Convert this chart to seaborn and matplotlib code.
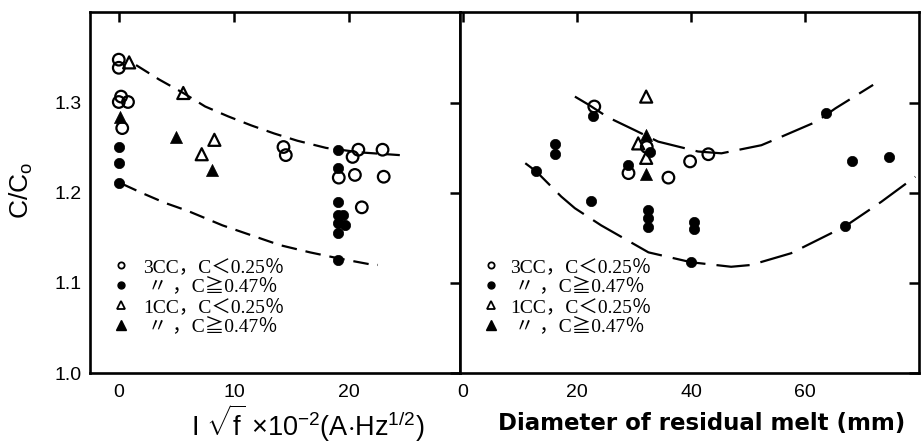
import numpy as np
import pandas as pd
import matplotlib
matplotlib.use("Agg")
import matplotlib.pyplot as plt
from matplotlib.lines import Line2D
import seaborn as sns

# ---------------- data: left panel (I*sqrt(f) x 1e-2) ----------------
L_3cc_low_x = [0, 0, 0.2, 0, 0.8, 0.3, 14.3, 14.5, 19.1, 20.3, 20.8, 20.5, 22.9, 23.0, 21.1]
L_3cc_low_y = [1.348, 1.339, 1.307, 1.301, 1.301, 1.272, 1.251, 1.242, 1.217, 1.240, 1.248, 1.220, 1.248, 1.218, 1.184]
L_3cc_high_x = [0, 0, 0, 19.0, 19.0, 19.0, 19.0, 19.5, 19.0, 19.6, 19.0, 19.0]
L_3cc_high_y = [1.251, 1.233, 1.211, 1.248, 1.228, 1.190, 1.176, 1.176, 1.167, 1.164, 1.155, 1.126]
L_1cc_low_x = [0.9, 5.6, 8.3, 7.2]
L_1cc_low_y = [1.345, 1.311, 1.259, 1.243]
L_1cc_high_x = [0.1, 5.0, 8.1]
L_1cc_high_y = [1.284, 1.262, 1.226]

L_upper_x = [1.5, 3.5, 5.6, 7.5, 9.5, 11.5, 13.5, 15.5, 18.0, 21.0, 24.4]
L_upper_y = [1.342, 1.326, 1.311, 1.296, 1.285, 1.275, 1.266, 1.258, 1.250, 1.245, 1.242]
L_lower_x = [0.3, 2.0, 4.0, 6.0, 9.0, 11.5, 14.0, 16.6, 19.2, 21.7, 22.5]
L_lower_y = [1.210, 1.200, 1.189, 1.180, 1.164, 1.153, 1.142, 1.134, 1.127, 1.121, 1.120]

# ---------------- data: right panel (diameter of residual melt) ----------------
R_3cc_low_x = [23.0, 32.2, 29.0, 36.0, 39.8, 43.0]
R_3cc_low_y = [1.296, 1.251, 1.222, 1.217, 1.235, 1.243]
R_3cc_high_x = [22.8, 16.1, 16.1, 12.8, 22.5, 32.8, 28.9, 32.5, 32.5, 32.5, 40.4, 40.4, 40.0, 63.7, 68.2, 74.6, 67.0]
R_3cc_high_y = [1.286, 1.254, 1.243, 1.224, 1.191, 1.245, 1.231, 1.181, 1.172, 1.162, 1.168, 1.160, 1.123, 1.289, 1.235, 1.240, 1.163]
R_1cc_low_x = [32.1, 30.7, 32.1]
R_1cc_low_y = [1.307, 1.255, 1.239]
R_1cc_high_x = [32.1, 32.1]
R_1cc_high_y = [1.264, 1.221]

R_upper_x = [19.6, 22.0, 25.4, 30.0, 34.2, 41.2, 45.3, 52.3, 55.3, 61.9, 65.3, 71.9]
R_upper_y = [1.307, 1.298, 1.284, 1.270, 1.257, 1.246, 1.244, 1.253, 1.261, 1.279, 1.294, 1.320]
R_lower_x = [10.9, 12.8, 17.2, 19.6, 24.2, 32.5, 40.0, 47.0, 50.5, 57.5, 67.0, 73.3, 79.3]
R_lower_y = [1.233, 1.224, 1.196, 1.183, 1.164, 1.134, 1.123, 1.118, 1.120, 1.133, 1.163, 1.190, 1.218]

legend_labels = ["3CC，C＜0.25％", " 〃 ，C≧0.47％", "1CC，C＜0.25％", " 〃 ，C≧0.47％"]
left_xticks = [0, 10, 20]
right_xticks = [0, 20, 40, 60]
yticks = [1.0, 1.1, 1.2, 1.3]

# ---------------- style ----------------
sns.set_style("white")
plt.rcParams["font.family"] = ["Liberation Sans", "DejaVu Sans"]
plt.rcParams["text.color"] = "black"
plt.rcParams["axes.labelcolor"] = "black"
plt.rcParams["mathtext.fontset"] = "custom"
plt.rcParams["mathtext.rm"] = "Liberation Sans"
plt.rcParams["mathtext.it"] = "Liberation Sans"

fig = plt.figure(figsize=(9.22, 4.43), dpi=100)
axL = fig.add_axes([0.0976, 0.158, 0.401, 0.815])
axR = fig.add_axes([0.4986, 0.158, 0.4985, 0.815])


def open_scatter(ax, x, y, marker, s):
    sns.scatterplot(x=x, y=y, marker=marker, s=s, color="black", ax=ax, zorder=3)
    c = ax.collections[-1]
    c.set_facecolor("none")
    c.set_edgecolor("black")
    c.set_linewidth(1.6)


def filled_scatter(ax, x, y, marker, s):
    sns.scatterplot(x=x, y=y, marker=marker, s=s, color="black", ax=ax, zorder=3)
    c = ax.collections[-1]
    c.set_edgecolor("black")
    c.set_linewidth(0.5)


def panel(ax, d, curves, dash):
    open_scatter(ax, d[0], d[1], "o", 70)
    filled_scatter(ax, d[2], d[3], "o", 55)
    open_scatter(ax, d[4], d[5], "^", 75)
    filled_scatter(ax, d[6], d[7], "^", 75)
    for cx, cy in curves:
        sns.lineplot(x=cx, y=cy, sort=False, estimator=None, color="black",
                     lw=1.6, linestyle=(0, dash), ax=ax, zorder=2)


panel(axL, [L_3cc_low_x, L_3cc_low_y, L_3cc_high_x, L_3cc_high_y,
            L_1cc_low_x, L_1cc_low_y, L_1cc_high_x, L_1cc_high_y],
      [(L_upper_x, L_upper_y), (L_lower_x, L_lower_y)], (7, 4))
panel(axR, [R_3cc_low_x, R_3cc_low_y, R_3cc_high_x, R_3cc_high_y,
            R_1cc_low_x, R_1cc_low_y, R_1cc_high_x, R_1cc_high_y],
      [(R_upper_x, R_upper_y), (R_lower_x, R_lower_y)], (15, 5))

axL.set_xlim(-2.5, 29.6)
axR.set_xlim(-0.6, 80)
for ax in (axL, axR):
    ax.set_ylim(1.0, 1.401)
    ax.set_yticks(yticks)
    for sp in ax.spines.values():
        sp.set_visible(True)
        sp.set_linewidth(1.9)
        sp.set_color("black")
    ax.tick_params(direction="in", length=7, width=1.8, top=True, right=True,
                   labelsize=14, colors="black")
    ax.tick_params(axis="x", pad=8)
    ax.tick_params(axis="y", pad=6)

axL.set_xticks(left_xticks)
axL.set_yticklabels(["1.0", "1.1", "1.2", "1.3"])
axR.set_xticks(right_xticks)
axR.set_yticklabels([])

axL.set_ylabel(r"C/C$_{\mathrm{o}}$", fontsize=19)
axL.yaxis.set_label_coords(-0.15, 0.507)
axL.set_xlabel(r"I $\sqrt{\mathrm{f}}$ $\times$10$^{-2}$(A$\cdot$Hz$^{1/2}$)", fontsize=19.5)
axL.xaxis.set_label_coords(0.59, -0.08)
axR.set_xlabel("Diameter of residual melt (mm)", fontsize=16.5, fontweight="bold",
               family="DejaVu Sans")
axR.xaxis.set_label_coords(0.526, -0.108)

handles = [
    Line2D([], [], ls="none", marker="o", ms=4.5, mfc="none", mec="black", mew=1.3),
    Line2D([], [], ls="none", marker="o", ms=5, mfc="black", mec="black"),
    Line2D([], [], ls="none", marker="^", ms=6, mfc="none", mec="black", mew=1.3),
    Line2D([], [], ls="none", marker="^", ms=7, mfc="black", mec="black"),
]
leg_font = {"family": ["Liberation Serif", "Noto Sans CJK JP"], "size": 14}
for ax, x0, pad in ((axL, 0.057, 0.65), (axR, 0.046, 0.5)):
    ax.legend(handles=handles, labels=legend_labels, loc="upper left",
              bbox_to_anchor=(x0, 0.318), frameon=False, prop=leg_font,
              handlelength=1.0, handletextpad=pad, labelspacing=0.12,
              borderpad=0, borderaxespad=0)

fig.savefig("out.png", dpi=100, facecolor="white")
